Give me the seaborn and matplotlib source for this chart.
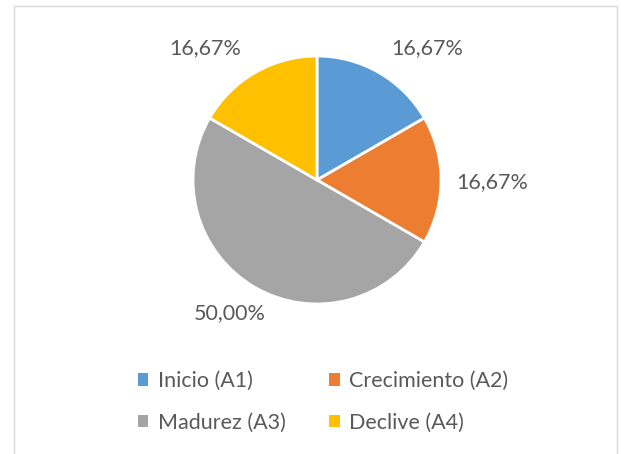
import matplotlib
matplotlib.use("Agg")
import matplotlib.pyplot as plt
import seaborn as sns
from matplotlib.patches import Rectangle, Patch

categories = ["Inicio (A1)", "Crecimiento (A2)", "Madurez (A3)", "Declive (A4)"]
values = [16.67, 16.67, 50.00, 16.67]
value_labels = ["16,67%", "16,67%", "50,00%", "16,67%"]
colors = ["#5B9BD5", "#ED7D31", "#A5A5A5", "#FFC000"]

sns.set_theme(style="white")
plt.rcParams['font.family'] = ['Lato', 'DejaVu Sans']
text_color = "#595959"

W, H = 621, 454
fig = plt.figure(figsize=(W / 100, H / 100), dpi=100)
fig.patch.set_facecolor("white")

R = 124.0
cx, cy = 317, 180
aw, ah = 400, 300
ax = fig.add_axes([(cx - aw / 2) / W, (H - cy - ah / 2) / H, aw / W, ah / H])
palette = sns.color_palette(colors)
wedges, _ = ax.pie(values, colors=palette, startangle=90, counterclock=False,
                   wedgeprops=dict(edgecolor="white", linewidth=2))
ax.set_xlim(-aw / 2 / R, aw / 2 / R)
ax.set_ylim(-ah / 2 / R, ah / 2 / R)
ax.set_aspect("auto")
ax.axis("off")

label_pos = [(0.887, 1.065), (1.41, -0.02), (-0.70, -1.07), (-0.90, 1.065)]
for (x, y), t in zip(label_pos, value_labels):
    ax.text(x, y, t, ha="center", va="center", fontsize=15.5, color=text_color)

# legend filled row-wise (matplotlib fills column-wise, so reorder)
order = [0, 2, 1, 3]
handles = [Patch(facecolor=colors[i], edgecolor="none") for i in order]
labels = [categories[i] for i in order]
leg = fig.legend(handles, labels, ncol=2, loc="center",
                 bbox_to_anchor=(323 / W, 1 - 402 / H), frameon=False,
                 fontsize=15.5, handlelength=0.5, handleheight=0.5,
                 handletextpad=0.45, columnspacing=2.0, labelspacing=1.0,
                 borderpad=0)
for t in leg.get_texts():
    t.set_color(text_color)

fig.add_artist(Rectangle((14 / W, -0.1), (617 - 14) / W, (H - 6) / H + 0.1,
                         transform=fig.transFigure, fill=False,
                         edgecolor="#D9D9D9", linewidth=1))

fig.savefig("out.png", dpi=100)
